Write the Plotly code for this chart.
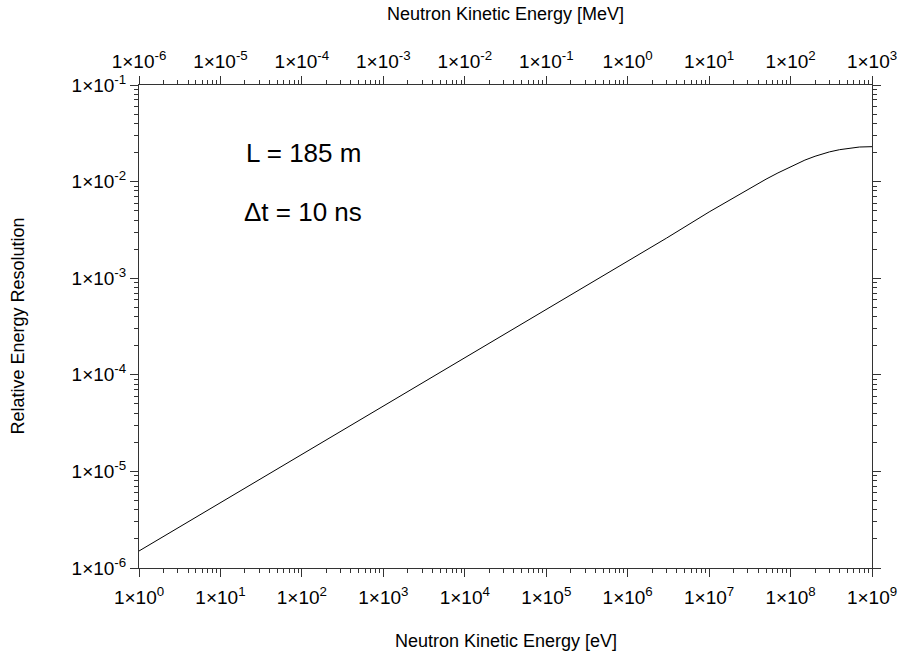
import plotly.graph_objects as go

# Data
energy_eV = [1, 10, 100, 1e3, 1e4, 1e5, 1e6, 3e6, 1e7, 2e7, 3e7, 5e7, 7e7,
             1e8, 1.5e8, 2e8, 3e8, 4e8, 5e8, 7e8, 1e9]
resolution = [1.5e-6, 4.74e-6, 1.5e-5, 4.74e-5, 1.5e-4, 4.74e-4, 1.5e-3, 2.6e-3, 4.85e-3,
              6.85e-3, 8.35e-3, 1.06e-2, 1.23e-2, 1.43e-2, 1.67e-2, 1.83e-2, 2.03e-2,
              2.14e-2, 2.21e-2, 2.28e-2, 2.3e-2]
energy_MeV = [e / 1e6 for e in energy_eV]

x_major_exp = list(range(0, 10))
x2_major_exp = list(range(-6, 4))
y_major_exp = list(range(-6, 0))

def sci(e):
    return "1\u00d710<sup>%d</sup>" % e

def minors(lo, hi):
    out = []
    for k in range(lo, hi):
        for m in range(2, 10):
            out.append(m * 10.0 ** k)
    return out

FONT = "Liberation Sans, Arial, sans-serif"

fig = go.Figure()
fig.add_trace(go.Scatter(x=energy_eV, y=resolution, mode="lines",
                         line=dict(color="black", width=1), showlegend=False,
                         hoverinfo="skip"))
fig.add_trace(go.Scatter(x=energy_MeV, y=resolution, mode="lines", xaxis="x2",
                         line=dict(color="rgba(0,0,0,0)", width=0), showlegend=False,
                         hoverinfo="skip"))

axis_common = dict(showgrid=False, zeroline=False, showline=True, linecolor="#333",
                   linewidth=1, ticks="outside", ticklen=8, tickwidth=1, tickcolor="#333",
                   automargin=False,
                   tickfont=dict(family=FONT, size=19, color="black"))

fig.update_layout(
    width=898, height=659,
    margin=dict(l=139, r=26, t=85, b=91),
    paper_bgcolor="white", plot_bgcolor="white",
    xaxis=dict(type="log", range=[0, 9], tickmode="array",
               tickvals=[10.0 ** e for e in x_major_exp],
               ticktext=[sci(e) for e in x_major_exp],
               ticklabelstandoff=4,
               minor=dict(tickmode="array", tickvals=minors(0, 9), ticks="outside",
                          ticklen=4, tickcolor="#333", showgrid=False),
               **axis_common),
    xaxis2=dict(type="log", range=[-6, 3], overlaying="x", side="top", anchor="y",
                tickmode="array",
                tickvals=[10.0 ** e for e in x2_major_exp],
                ticktext=[sci(e) for e in x2_major_exp],
                minor=dict(tickmode="array", tickvals=minors(-6, 3), ticks="outside",
                           ticklen=4, tickcolor="#333", showgrid=False),
                **axis_common),
    yaxis=dict(type="log", range=[-6, -1], tickmode="array", mirror="ticks",
               tickvals=[10.0 ** e for e in y_major_exp],
               ticktext=[sci(e) for e in y_major_exp],
               minor=dict(tickmode="array", tickvals=minors(-6, -1), ticks="outside",
                          ticklen=4, tickcolor="#333", showgrid=False),
               **axis_common),
    annotations=[
        dict(text="Neutron Kinetic Energy [eV]", xref="paper", yref="paper", x=0.5, y=0,
             yshift=-73, showarrow=False, xanchor="center", yanchor="middle",
             font=dict(family=FONT, size=18, color="black")),
        dict(text="Neutron Kinetic Energy [MeV]", xref="paper", yref="paper", x=0.5, y=1,
             yshift=71, showarrow=False, xanchor="center", yanchor="middle",
             font=dict(family=FONT, size=18, color="black")),
        dict(text="Relative Energy Resolution", xref="paper", yref="paper", x=0, y=0.5,
             xshift=-122, showarrow=False, xanchor="center", yanchor="middle",
             textangle=-90, font=dict(family=FONT, size=18, color="black")),
        dict(text="L = 185 m", xref="paper", yref="paper", x=0, y=1, xshift=105,
             yshift=-68, showarrow=False, xanchor="left", yanchor="middle",
             font=dict(family=FONT, size=26, color="black")),
        dict(text="\u0394t = 10 ns", xref="paper", yref="paper", x=0, y=1, xshift=103,
             yshift=-127, showarrow=False, xanchor="left", yanchor="middle",
             font=dict(family=FONT, size=26, color="black")),
    ],
)

fig.write_html("out.html")
